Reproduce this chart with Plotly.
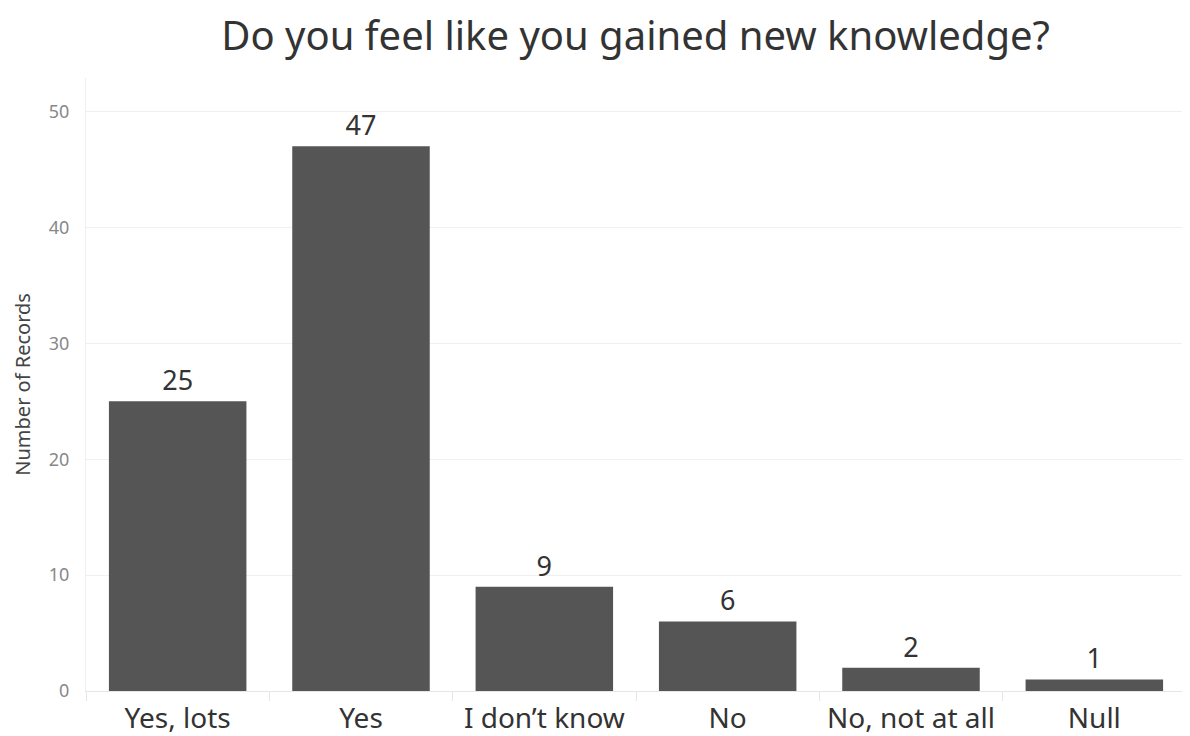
import plotly.graph_objects as go

categories = ["Yes, lots", "Yes", "I don\u2019t know", "No", "No, not at all", "Null"]
values = [25, 47, 9, 6, 2, 1]
y_ticks = [0, 10, 20, 30, 40, 50]

FONT = "Noto Sans"

fig = go.Figure(go.Bar(
    x=categories, y=values,
    marker=dict(color="#555555", line=dict(width=0)),
    text=[str(v) for v in values], textposition="outside",
    textfont=dict(family=FONT, size=27, color="#333333"),
    cliponaxis=False,
))

# page body has an 8px margin, so the figure is sized to the visible area
fig.update_layout(
    width=1182, height=728,
    margin=dict(l=78, r=4, t=70, b=45, autoexpand=False),
    paper_bgcolor="white", plot_bgcolor="white",
    bargap=0.25,
    showlegend=False,
    title=dict(text="Do you feel like you gained new knowledge?",
               x=0.531, xanchor="center", y=0.962, yanchor="middle",
               font=dict(family=FONT, size=40, color="#333333")),
    font=dict(family=FONT),
    annotations=[dict(
        text="Number of Records", textangle=-90,
        xref="paper", yref="paper", x=-0.058, y=0.5,
        xanchor="center", yanchor="middle", showarrow=False,
        font=dict(family=FONT, size=20, color="#444444"),
    )],
)
fig.update_xaxes(
    automargin=False,
    showline=True, linecolor="#e6e6e6", linewidth=1,
    ticks="outside", tickson="boundaries", ticklen=9, tickcolor="#e6e6e6",
    ticklabelstandoff=2,
    tickfont=dict(family=FONT, size=28, color="#333333"),
    showgrid=False,
)
fig.update_yaxes(
    automargin=False,
    range=[0, 52.9], tickvals=y_ticks,
    showgrid=True, gridcolor="#f0f0f0", gridwidth=1,
    zeroline=False,
    showline=True, linecolor="#f0f0f0",
    tickfont=dict(family=FONT, size=18, color="#888888"),
    ticks="", ticklabelstandoff=12,
)

fig.write_html("out.html")
